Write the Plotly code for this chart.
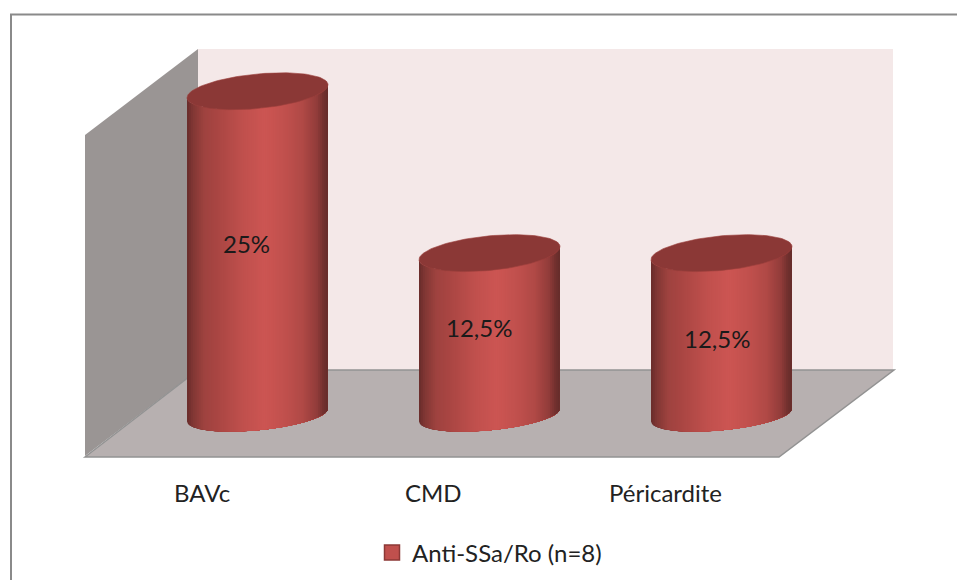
import numpy as np
import plotly.graph_objects as go

# Chart data
categories = ["BAVc", "CMD", "Péricardite"]
percent_values = [25, 12.5, 12.5]
series_name = "Anti-SSa/Ro (n=8)"

# Canvas and axis calibration
W, H = 957, 580
CAT_ORIGIN_PX, CAT_STEP_PX = 257.5, 232.0   # pixel x of category 0, pixels per category
ZERO_PX, PX_PER_UNIT = 415.0, 12.95         # pixel y of value 0, pixels per percent
x_range = [-CAT_ORIGIN_PX / CAT_STEP_PX, (W - CAT_ORIGIN_PX) / CAT_STEP_PX]
y_range = [(ZERO_PX - H) / PX_PER_UNIT, ZERO_PX / PX_PER_UNIT]

# Cylinder shape, in pixels: half width, half heights of the end caps, cap tilt
RX, RY_TOP, RY_BOTTOM, TILT = 70.5, 17.3, 15.3, 6.5
N_STRIPS = 70

# Horizontal shading of the cylinder wall
SHADE_POS = [0.00, 0.04, 0.12, 0.22, 0.40, 0.55, 0.68, 0.82, 0.92, 0.97, 1.00]
SHADE_RGB = [(104, 44, 42), (128, 54, 52), (158, 66, 63), (170, 70, 67), (192, 80, 77),
             (204, 85, 82), (194, 81, 78), (176, 73, 70), (146, 60, 58), (112, 48, 46), (100, 44, 42)]
CAP_COLOR = "#8b3836"

# Pixel-level nudges of the value labels, and the category label offset caused by the 3D depth
LABEL_SHIFT = [(-11.5, 10), (-11, 7), (-5, -4)]
CAT_LABEL_SHIFT_PX = -56
FONT = "Lato"
FONT_SIZE = 24


def shade(t):
    rgb = [np.interp(t, SHADE_POS, [c[i] for c in SHADE_RGB]) for i in range(3)]
    return "rgb({:.0f},{:.0f},{:.0f})".format(*rgb)


def cap_offset(u, ry, sign):
    """Vertical pixel offset of a tilted cap's edge at horizontal offset u."""
    return -TILT * u / RX + sign * ry * np.sqrt(np.clip(1 - (u / RX) ** 2, 0, 1))


def to_x(pos, u):
    return pos + u / CAT_STEP_PX


def to_y(value, dy_px):
    return value - dy_px / PX_PER_UNIT


fig = go.Figure()

for pos, value in enumerate(percent_values):
    edges = RX * (2 * np.linspace(0, 1, N_STRIPS + 1) - 1)
    # Each strip runs to the right edge and the next one paints over it, so no seams show
    for i in range(N_STRIPS):
        u = np.linspace(edges[i], RX, 2 * (N_STRIPS - i) + 2)
        top = to_y(value, cap_offset(u, RY_TOP, 1))
        bottom = to_y(0, cap_offset(u, RY_BOTTOM, 1))
        fig.add_trace(go.Scatter(
            x=np.r_[to_x(pos, u), to_x(pos, u[::-1])],
            y=np.r_[top, bottom[::-1]],
            mode="lines", fill="toself", fillcolor=shade((i + 0.5) / N_STRIPS),
            line=dict(width=0), showlegend=False, hoverinfo="skip",
        ))
    # Top cap
    theta = np.linspace(0, 2 * np.pi, 121)
    u = RX * np.cos(theta)
    dy = -TILT * np.cos(theta) + RY_TOP * np.sin(theta)
    fig.add_trace(go.Scatter(
        x=to_x(pos, u), y=to_y(value, dy),
        mode="lines", fill="toself", fillcolor=CAP_COLOR,
        line=dict(width=0.6, color="#9c403d"), showlegend=False, hoverinfo="skip",
    ))

# Legend entry
fig.add_trace(go.Scatter(
    x=[None], y=[None], mode="markers", name=series_name,
    marker=dict(symbol="square", size=15, color="#c0504d", line=dict(color="#8c3836", width=1.5)),
))


def poly(points, fill, line=None, width=0):
    path = "M " + " L ".join(f"{x / W:.5f},{1 - y / H:.5f}" for x, y in points) + " Z"
    return dict(type="path", path=path, xref="paper", yref="paper", layer="below",
                fillcolor=fill, line=dict(color=line or fill, width=width))


# Outer frame, back wall, side wall and floor of the 3D box
shapes = [
    dict(type="rect", xref="paper", yref="paper", layer="below",
         x0=11 / W, x1=1.02, y0=1 - 14.5 / H, y1=-0.02,
         fillcolor="white", line=dict(color="#8a8a8a", width=2)),
    poly([(198, 49), (893, 49), (893, 370), (198, 370)], "#f4e8e8"),
    poly([(85, 135), (198, 49), (198, 370), (85, 456)], "#9a9594"),
    poly([(85, 457), (198, 370), (894, 370), (779, 457)], "#b7b0b0", "#929292", 1.5),
]

annotations = [
    dict(x=pos, y=value / 2, xref="x", yref="y", showarrow=False,
         xshift=sx, yshift=sy, text=f"{value:g}%".replace(".", ","),
         font=dict(family=FONT, size=FONT_SIZE, color="#1a1a1a"))
    for pos, (value, (sx, sy)) in enumerate(zip(percent_values, LABEL_SHIFT))
]
annotations += [
    dict(x=pos, y=1 - 492 / H, xref="x", yref="paper", yanchor="middle", showarrow=False,
         xshift=CAT_LABEL_SHIFT_PX, text=name,
         font=dict(family=FONT, size=FONT_SIZE, color="#222222"))
    for pos, name in enumerate(categories)
]

fig.update_layout(
    width=W, height=H, margin=dict(l=0, r=0, t=0, b=0),
    paper_bgcolor="white", plot_bgcolor="rgba(0,0,0,0)",
    xaxis=dict(range=x_range, visible=False, fixedrange=True),
    yaxis=dict(range=y_range, visible=False, fixedrange=True),
    shapes=shapes, annotations=annotations, hovermode=False,
    showlegend=True,
    legend=dict(x=372 / W, y=1 - 553 / H, xanchor="left", yanchor="middle",
                bgcolor="rgba(0,0,0,0)", itemwidth=30,
                font=dict(family=FONT, size=FONT_SIZE, color="#222222")),
)

fig.write_html("out.html", config=dict(displayModeBar=False))
